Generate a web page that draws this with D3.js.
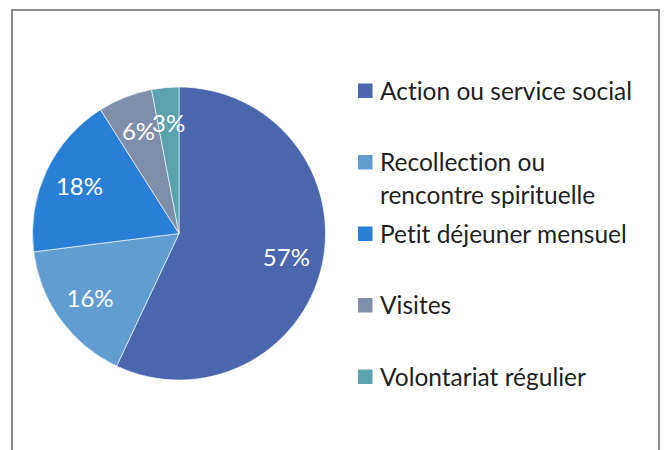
<!DOCTYPE html>
<html>
<head>
<meta charset="utf-8">
<script src="https://cdn.jsdelivr.net/npm/d3@7"></script>
<style>
  body { margin: 0; background: #fff; }
  text { font-family: Lato, "Open Sans", sans-serif; font-variant-ligatures: none; }
</style>
</head>
<body>
<script>
const categories = ["Action ou service social", "Recollection ou rencontre spirituelle", "Petit déjeuner mensuel", "Visites", "Volontariat régulier"]
const legendLines = [["Action ou service social"], ["Recollection ou", "rencontre spirituelle"], ["Petit déjeuner mensuel"], ["Visites"], ["Volontariat régulier"]]
const values = [57, 16, 18, 6, 3]
const colors = ["#4A66AC", "#629DD1", "#297FD5", "#7F8FA9", "#5AA2AE"]

const width = 665
const height = 450
const cx = 179, cy = 233.5, radius = 146.5

const svg = d3.select('body')
    .append('svg')
    .attr('width', width)
    .attr('height', height)

// chart border (bottom edge runs off the picture)
svg.append('path')
    .attr('d', `M12,${height} V10 H659 V${height}`)
    .attr('fill', 'none')
    .attr('stroke', '#8c8c8c')
    .attr('stroke-width', 2)

const data = categories.map((c, i) => ({ name: c, value: values[i], color: colors[i], lines: legendLines[i] }))

const pie = d3.pie()
    .value(d => d.value)
    .sort(null)

const arc = d3.arc()
    .innerRadius(0)
    .outerRadius(radius)

const labelArc = d3.arc()
    .innerRadius(110)
    .outerRadius(110)

const g = svg.append('g')
    .attr('transform', `translate(${cx},${cy})`)

const arcs = pie(data)

g.selectAll('path')
    .data(arcs)
    .join('path')
    .attr('d', arc)
    .attr('fill', d => d.data.color)
    .attr('stroke', '#fff')
    .attr('stroke-width', 0.6)

g.selectAll('text')
    .data(arcs)
    .join('text')
    .attr('transform', d => `translate(${labelArc.centroid(d)})`)
    .attr('text-anchor', 'middle')
    .attr('dy', '0.35em')
    .attr('fill', '#fff')
    .style('font-size', '24px')
    .text(d => d.data.value + '%')

// legend
const legend = svg.append('g')
    .attr('transform', 'translate(358,0)')

const ly = d3.scalePoint()
    .domain(categories)
    .range([90.5, 376.5])

const item = legend.selectAll('g')
    .data(data)
    .join('g')
    .attr('transform', d => `translate(0,${ly(d.name)})`)

item.append('rect')
    .attr('x', 0)
    .attr('y', -7)
    .attr('width', 14.5)
    .attr('height', 14.5)
    .attr('fill', d => d.color)

item.append('text')
    .attr('y', 9)
    .attr('fill', '#1f1f1f')
    .style('font-size', '24.5px')
    .selectAll('tspan')
    .data(d => d.lines)
    .join('tspan')
    .attr('x', 22)
    .attr('dy', (d, i) => i === 0 ? 0 : 33)
    .text(d => d)
</script>
</body>
</html>
